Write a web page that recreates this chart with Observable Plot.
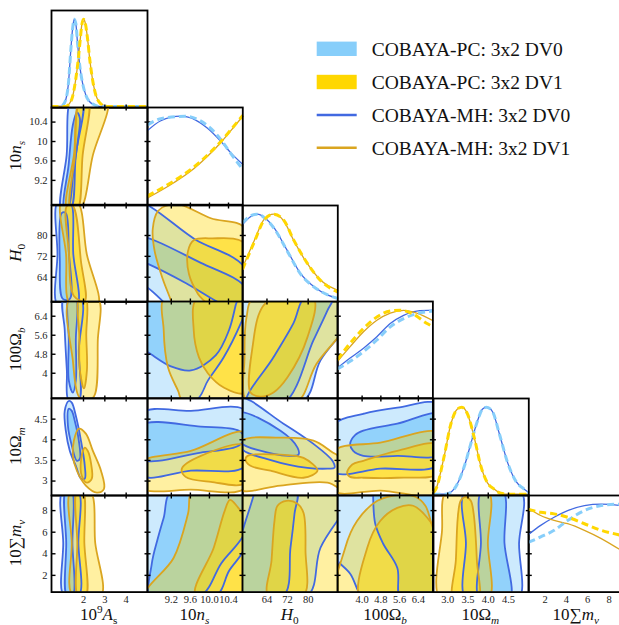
<!DOCTYPE html>
<html><head><meta charset="utf-8">
<script src="https://cdn.jsdelivr.net/npm/d3@7"></script>
<script src="https://cdn.jsdelivr.net/npm/@observablehq/plot@0.6"></script>
<style>
html,body{margin:0;padding:0;background:#fff;}
#fig{position:relative;width:619px;height:625px;overflow:hidden;background:#fff;}
#fig svg text{font-family:"Liberation Serif","Times New Roman",serif;}
</style></head><body><div id="fig"></div>
<script>
// ---------- axis domains, ticks, labels ----------
const domAs = [0.5, 5.0], domNs = [8.7, 10.7], domH0 = [54.5, 91.5], domOb = [2.95, 7.02], domOm = [2.65, 5.0], domMnu = [0.45, 9.4];
const tickAs = [2, 3, 4], labAs = ["2", "3", "4"];
const tickNs = [9.2, 9.6, 10, 10.4], labNsX = ["9.2", "9.6", "10.0", "10.4"], labNsY = ["9.2", "9.6", "10", "10.4"];
const tickH0 = [64, 72, 80], labH0 = ["64", "72", "80"];
const tickOb = [4, 4.8, 5.6, 6.4], labObX = ["4.0", "4.8", "5.6", "6.4"], labObY = ["4", "4.8", "5.6", "6.4"];
const tickOm = [3, 3.5, 4, 4.5], labOmX = ["3.0", "3.5", "4.0", "4.5"], labOmY = ["3", "3.5", "4", "4.5"];
const tickMnu = [2, 4, 6, 8], labMnu = ["2", "4", "6", "8"];
const titleAs = [["10"], ["9", "sup"], ["A", "it"], ["s", "sub"]];
const titleNs = [["10"], ["n", "it"], ["s", "subit"]];
const titleH0 = [["H", "it"], ["0", "sub"]];
const titleOb = [["100Ω"], ["b", "subit"]];
const titleOm = [["10Ω"], ["m", "subit"]];
const titleMnu = [["10"], ["∑"], ["m", "it"], ["ν", "subit"]];
const legendLabels = ["COBAYA-PC: 3x2 DV0", "COBAYA-PC: 3x2 DV1", "COBAYA-MH: 3x2 DV0", "COBAYA-MH: 3x2 DV1"];

// ---------- 1D marginals [value, normalised density] ----------
const As_MH0 = [[0.5,0],[0.94,0],[1.015,0.01],[1.171,0.08],[1.296,0.27],[1.406,0.65],[1.484,0.88],[1.562,1.0],[1.641,0.95],[1.719,0.73],[1.829,0.46],[1.954,0.27],[2.110,0.13],[2.267,0.06],[2.501,0.02],[2.736,0],[5.0,0]];
const As_MH1 = [[0.5,0],[1.171,0],[1.328,0.03],[1.484,0.11],[1.641,0.32],[1.75,0.53],[1.844,0.76],[1.923,0.94],[2.0,1.0],[2.079,0.96],[2.188,0.78],[2.298,0.53],[2.423,0.31],[2.58,0.13],[2.736,0.05],[2.971,0.01],[3.2,0],[5.0,0]];
const As_PC0 = As_MH0, As_PC1 = As_MH1;
const ns_MH0 = [[8.7,0.835],[8.98,0.948],[9.40,1.0],[9.71,0.956],[9.96,0.862],[10.24,0.711],[10.45,0.579],[10.7,0.447]];
const ns_PC0 = [[8.7,0.90],[9.0,0.975],[9.5,1.0],[9.8,0.95],[10.2,0.76],[10.45,0.57],[10.7,0.39]];
const ns_MH1 = [[8.7,0.062],[9.26,0.24],[9.61,0.371],[9.96,0.541],[10.24,0.699],[10.45,0.835],[10.7,1.0]];
const ns_PC1 = [[8.7,0.085],[9.26,0.26],[9.61,0.39],[9.96,0.555],[10.24,0.71],[10.45,0.845],[10.7,1.01]];
const H0_MH0 = [[54.5,0.88],[57.3,0.965],[60.2,1.0],[63.5,0.95],[66.65,0.847],[71.85,0.581],[77.0,0.316],[82.18,0.163],[87.38,0.068],[91.5,0.03]];
const H0_PC0 = [[54.5,0.9],[57.3,0.975],[60.2,1.0],[63.5,0.945],[66.65,0.84],[71.85,0.575],[77.0,0.31],[82.18,0.16],[87.38,0.07],[91.5,0.025]];
const H0_MH1 = [[54.5,0.38],[59.09,0.695],[62.97,0.943],[66.65,1.0],[70.53,0.923],[74.4,0.695],[79.62,0.43],[84.78,0.239],[91.5,0.12]];
const H0_PC1 = [[54.5,0.36],[59.09,0.68],[62.97,0.935],[66.65,1.0],[70.53,0.93],[74.4,0.70],[79.62,0.435],[84.78,0.235],[91.5,0.10]];
const Ob_MH0 = [[2.95,0.334],[3.49,0.448],[4.06,0.562],[4.63,0.694],[5.20,0.846],[5.77,0.941],[6.33,0.99],[7.02,1.0]];
const Ob_PC0 = [[2.95,0.323],[3.49,0.41],[4.06,0.523],[4.63,0.656],[5.20,0.808],[5.77,0.903],[6.33,0.96],[7.02,0.99]];
const Ob_MH1 = [[2.95,0.41],[3.49,0.58],[4.06,0.751],[4.63,0.884],[5.20,0.967],[5.77,0.998],[6.33,0.967],[7.02,0.88]];
const Ob_PC1 = [[2.95,0.429],[3.49,0.619],[4.06,0.789],[4.63,0.921],[5.20,0.99],[5.63,1.0],[6.20,0.952],[6.77,0.846],[7.02,0.81]];
const Om_MH0 = [[2.65,0],[2.95,0],[3.16,0.06],[3.41,0.32],[3.57,0.58],[3.74,0.85],[3.86,0.98],[3.96,1.0],[4.11,0.945],[4.27,0.70],[4.48,0.36],[4.68,0.15],[4.88,0.06],[5.0,0.02]];
const Om_MH1 = [[2.65,0.02],[2.71,0.06],[2.91,0.43],[3.08,0.81],[3.24,0.98],[3.35,1.0],[3.49,0.92],[3.65,0.66],[3.82,0.32],[3.98,0.13],[4.14,0.06],[4.31,0.01],[4.5,0],[5.0,0]];
const Om_PC0 = Om_MH0, Om_PC1 = Om_MH1;
const mnu_MH0 = [[0.45,0.65],[1.59,0.755],[2.85,0.849],[4.12,0.926],[5.69,0.983],[7.27,1.0],[9.08,0.983],[9.4,0.975]];
const mnu_PC0 = [[0.45,0.56],[1.59,0.622],[2.85,0.698],[4.12,0.812],[5.69,0.926],[7.27,0.983],[9.08,1.0],[9.4,1.0]];
const mnu_MH1 = [[0.45,0.95],[1.59,0.869],[2.85,0.812],[4.12,0.774],[5.69,0.698],[7.27,0.603],[9.08,0.47],[9.4,0.445]];
const mnu_PC1 = [[0.45,0.94],[1.59,0.906],[2.85,0.888],[4.12,0.849],[5.69,0.774],[7.27,0.698],[9.08,0.641],[9.4,0.63]];

// ---------- 2D contours [x value, y value]; _0 = DV0, _1 = DV1; _1s = 68%, _2s = 95% ----------
const nsAs_0_2s = [[0.96,8.59],[1.21,9.72],[1.43,10.85],[1.95,10.85],[1.64,9.72],[1.38,8.59]];
const nsAs_0_1s = [[1.08,8.62],[1.30,9.51],[1.50,10.34],[1.69,10.60],[1.83,10.48],[1.74,10.03],[1.54,9.41],[1.27,8.62]];
const nsAs_1_2s = [[1.24,8.59],[1.55,9.72],[1.91,10.85],[3.11,10.85],[2.44,9.72],[1.82,8.59]];
const nsAs_1_1s = [[1.39,8.59],[1.60,9.72],[1.82,10.85],[2.23,10.85],[1.96,9.72],[1.71,8.59]];
const H0As_0_2s = [[0.80,93.2],[0.78,73],[0.80,53],[1.69,53],[1.52,73],[1.36,93.2]];
const H0As_0_1s = [[0.98,88.6],[0.89,70.2],[1.03,55.7],[1.36,55.7],[1.31,74.1],[1.17,88.6]];
const H0As_1_2s = [[0.98,93.2],[1.18,73],[1.41,53],[2.67,53],[2.15,73],[1.69,93.2]];
const H0As_1_1s = [[1.22,91.3],[1.31,74.1],[1.55,56.8],[2.06,54.9],[1.88,70.2],[1.50,91.3]];
const ObAs_0_2s = [[1.08,7.16],[1.12,5.81],[1.22,4.12],[1.31,2.85],[1.78,2.85],[1.78,4.96],[1.88,7.16]];
const ObAs_0_1s = [[1.31,7.16],[1.31,5.4],[1.31,3.70],[1.50,3.19],[1.64,3.70],[1.64,5.4],[1.64,7.16]];
const ObAs_1_2s = [[1.36,7.16],[1.50,4.54],[1.78,3.02],[2.11,2.85],[2.49,3.02],[2.67,5.39],[2.67,7.16]];
const ObAs_1_1s = [[1.78,7.16],[1.80,5.6],[1.83,4.12],[2.02,3.36],[2.16,4.12],[2.13,5.6],[2.11,7.16]];
const OmAs_0_2s = [[1.31,4.94],[1.12,4.70],[1.17,4.22],[1.36,3.73],[1.64,3.37],[1.88,3.06],[2.06,3.06],[2.06,3.37],[1.88,3.98],[1.64,4.58],[1.45,4.90]];
const OmAs_0_1s = [[1.31,4.75],[1.27,4.34],[1.45,3.86],[1.69,3.49],[1.83,3.54],[1.78,3.98],[1.59,4.46],[1.45,4.70]];
const OmAs_1_2s = [[1.78,4.27],[1.55,3.98],[1.50,3.61],[1.69,3.25],[2.11,2.89],[2.63,2.72],[2.96,2.81],[2.82,3.25],[2.44,3.73],[2.11,4.15]];
const OmAs_1_1s = [[2.06,3.81],[1.88,3.49],[1.92,3.13],[2.16,2.96],[2.39,3.06],[2.35,3.44],[2.20,3.73]];
const mnuAs_0_2s = [[1.03,9.84],[1.05,5],[1.08,0.11],[1.78,0.11],[1.76,5],[1.74,9.84]];
const mnuAs_0_1s = [[1.17,9.84],[1.19,5],[1.22,0.11],[1.50,0.11],[1.48,5],[1.45,9.84]];
const mnuAs_1_2s = [[1.41,9.84],[1.45,5],[1.50,0.11],[2.82,0.11],[2.55,5],[2.30,9.84]];
const mnuAs_1_1s = [[1.69,9.84],[1.71,5],[1.74,0.11],[2.11,0.11],[2.04,5],[1.97,9.84]];
const H0ns_0_2s = [[8.45,92.5],[9.70,78.5],[10.76,67.2],[10.76,47],[9.6,47],[8.71,59.9],[8.45,62.5]];
const H0ns_0_1s = [[8.45,79.4],[9.82,69.5],[10.76,59.9],[10.76,51],[10.34,53],[9.51,61.7],[8.71,69.1],[8.45,71]];
const H0ns_1_2s = [[9.23,53],[9.02,63.3],[8.85,74],[8.81,82.5],[8.92,89.4],[9.15,91.7],[9.4,91.7],[10.03,86.6],[10.76,82.5],[10.76,47],[9.29,47]];
const H0ns_1_1s = [[9.97,53],[9.76,57.6],[9.57,65.2],[9.55,74],[9.67,78.2],[10.03,78.9],[10.76,76.7],[10.76,47],[10.03,47]];
const Obns_0_2s = [[8.56,7.49],[10.76,7.49],[10.76,6.65],[10.66,6.11],[10.3,4.67],[9.97,3.70],[9.71,2.85],[8.56,2.85]];
const Obns_0_1s = [[8.56,7.49],[10.62,7.49],[10.55,6.86],[10.41,5.81],[10.13,4.75],[9.61,4.12],[9.19,4.29],[8.71,4.88],[8.56,5.04]];
const Obns_1_2s = [[9.08,7.29],[9.04,5.81],[9.13,4.25],[9.34,3.27],[9.44,2.85],[10.76,2.85],[10.76,7.29]];
const Obns_1_1s = [[9.74,7.16],[9.67,5.81],[9.78,4.67],[9.97,3.99],[10.3,3.40],[10.76,3.19],[10.76,7.16]];
const Omns_0_2s = [[8.56,4.63],[9.61,4.70],[10.76,4.70],[10.76,3.37],[9.61,3.25],[8.56,3.15]];
const Omns_0_1s = [[8.56,4.34],[9.82,4.32],[10.62,4.22],[10.72,4.05],[10.62,3.86],[9.82,3.69],[8.56,3.54]];
const Omns_1_2s = [[8.56,3.44],[9.61,3.73],[10.76,4.17],[10.76,2.84],[9.61,2.79],[8.56,2.84]];
const Omns_1_1s = [[9.42,3.30],[9.82,3.61],[10.76,3.86],[10.76,2.96],[10.03,2.98],[9.5,3.10]];
const mnuns_0_2s = [[8.56,9.84],[10.76,9.84],[10.76,4.74],[10.41,2.41],[10.13,0.11],[8.56,0.11]];
const mnuns_0_1s = [[8.77,-0.35],[8.79,3.08],[8.92,5.48],[9.04,7.34],[9.21,9.84],[10.76,9.84],[10.76,6.13],[10.25,3.13],[9.82,0.11]];
const mnuns_1_2s = [[8.66,0.11],[9.25,3.63],[9.55,7.71],[9.65,9.84],[10.76,9.84],[10.76,0.11]];
const mnuns_1_1s = [[9.71,0.11],[10.09,4.56],[10.32,7.98],[10.43,9.0],[10.57,8.45],[10.76,7.06],[10.76,0.11]];
const ObH0_0_2s = [[52.95,7.29],[96,7.29],[96,6.23],[84.78,4.54],[78.18,2.85],[52.95,2.85]];
const ObH0_0_1s = [[56.05,2.77],[66.53,4.67],[74.3,6.11],[78.96,7.25],[89.83,7.25],[87.5,6.65],[82.06,5.39],[70.8,2.77]];
const ObH0_1_2s = [[56.44,2.77],[55.28,4.67],[56.05,6.35],[58.77,7.16],[96,7.16],[96,6.23],[83.2,4.39],[75.46,2.77]];
const ObH0_1_1s = [[57.6,3.19],[58.77,5.39],[60.71,6.44],[63.04,6.90],[67.31,7.16],[82.06,7.16],[79.73,5.52],[71.97,3.83],[66.53,3.19],[61.49,3.02]];
const OmH0_0_2s = [[52.95,5.02],[70.42,4.39],[82.06,3.90],[89.44,3.49],[90.21,3.32],[87.5,3.30],[79.73,3.32],[66.53,3.49],[52.95,3.86]];
const OmH0_0_1s = [[52.95,4.65],[69.25,4.22],[75.85,3.81],[76.24,3.64],[73.13,3.61],[66.53,3.66],[52.95,3.98]];
const OmH0_1_2s = [[52.95,3.93],[69.25,4.05],[82.06,3.98],[88.66,3.73],[96,3.37],[96,2.72],[87.5,2.96],[69.25,2.89],[52.95,2.81]];
const OmH0_1_1s = [[56.44,3.61],[69.25,3.64],[78.18,3.56],[83.61,3.25],[78.18,3.08],[65.37,3.25],[57.6,3.37],[55.66,3.52]];
const mnuH0_0_2s = [[52.95,9.84],[96,9.84],[96,8.91],[84.78,4.56],[79.73,0.11],[52.95,0.11]];
const mnuH0_0_1s = [[52.95,4.74],[54.89,6.41],[58.77,9.37],[59.16,9.84],[75.46,9.84],[74.69,7.71],[73.13,4.56],[70.42,0.11],[52.95,0.11]];
const mnuH0_1_2s = [[52.95,9.84],[96,9.84],[96,0.11],[52.95,0.11]];
const mnuH0_1_1s = [[64.59,0.11],[65.76,3.35],[66.92,7.06],[68.09,8.45],[71.58,8.91],[75.85,8.63],[78.18,7.80],[78.96,4.28],[78.18,0.11]];
const OmOb_0_2s = [[2.76,4.34],[4.05,4.63],[5.50,4.78],[7.34,4.85],[7.34,3.42],[4.78,3.30],[2.76,3.23]];
const OmOb_0_1s = [[3.49,3.90],[3.71,4.12],[4.05,4.22],[5.50,4.39],[7.34,4.61],[7.34,3.66],[5.50,3.61],[4.05,3.61],[3.62,3.73]];
const OmOb_1_2s = [[2.76,3.71],[4.78,3.93],[7.34,4.15],[7.34,2.72],[4.78,2.77],[2.76,2.77]];
const OmOb_1_1s = [[3.36,3.20],[3.58,3.40],[4.05,3.49],[5.50,3.73],[7.34,3.88],[7.34,3.20],[5.50,3.08],[4.05,3.08],[3.49,3.10]];
const mnuOb_0_2s = [[2.76,9.84],[7.34,9.84],[7.34,-0.35],[4.18,-0.35],[3.49,2.15],[2.76,4.0]];
const mnuOb_0_1s = [[4.47,9.84],[4.47,9.37],[4.56,6.78],[4.90,4.93],[5.50,2.71],[5.67,-0.35],[7.34,-0.35],[7.34,9.84]];
const mnuOb_1_2s = [[2.98,-0.35],[3.28,4.56],[3.79,7.06],[4.65,8.91],[5.63,9.47],[6.27,9.28],[6.70,8.45],[6.99,6.59],[7.54,3.35],[7.54,-0.35]];
const mnuOb_1_1s = [[3.96,-0.35],[4.22,4.56],[4.78,7.06],[5.50,8.26],[6.18,8.45],[6.78,7.34],[7.34,5.21],[7.34,-0.35]];
const mnuOm_0_2s = [[3.44,9.84],[3.45,5],[3.47,-0.35],[4.73,-0.35],[4.76,5],[4.80,9.84]];
const mnuOm_0_1s = [[3.84,9.84],[3.82,5],[3.80,-0.35],[4.52,-0.35],[4.40,5],[4.36,9.84]];
const mnuOm_1_2s = [[2.98,9.84],[2.86,6.13],[2.83,-0.35],[3.99,-0.35],[3.99,5],[3.99,9.84]];
const mnuOm_1_1s = [[3.15,-0.35],[3.20,3.35],[3.32,8.91],[3.45,9.28],[3.57,8.91],[3.64,7.71],[3.72,3.35],[3.74,-0.35]];

// ---------- assembly ----------
const VARS = [
  {dom: domAs, ticks: tickAs, labX: labAs, labY: labAs, title: titleAs},
  {dom: domNs, ticks: tickNs, labX: labNsX, labY: labNsY, title: titleNs},
  {dom: domH0, ticks: tickH0, labX: labH0, labY: labH0, title: titleH0},
  {dom: domOb, ticks: tickOb, labX: labObX, labY: labObY, title: titleOb},
  {dom: domOm, ticks: tickOm, labX: labOmX, labY: labOmY, title: titleOm},
  {dom: domMnu, ticks: tickMnu, labX: labMnu, labY: labMnu, title: titleMnu}
];
const MARG = [
  [As_PC0, As_PC1, As_MH0, As_MH1], [ns_PC0, ns_PC1, ns_MH0, ns_MH1], [H0_PC0, H0_PC1, H0_MH0, H0_MH1],
  [Ob_PC0, Ob_PC1, Ob_MH0, Ob_MH1], [Om_PC0, Om_PC1, Om_MH0, Om_MH1], [mnu_PC0, mnu_PC1, mnu_MH0, mnu_MH1]
];
const CONT = {
  "1,0": [nsAs_0_2s, nsAs_0_1s, nsAs_1_2s, nsAs_1_1s],
  "2,0": [H0As_0_2s, H0As_0_1s, H0As_1_2s, H0As_1_1s],
  "3,0": [ObAs_0_2s, ObAs_0_1s, ObAs_1_2s, ObAs_1_1s],
  "4,0": [OmAs_0_2s, OmAs_0_1s, OmAs_1_2s, OmAs_1_1s],
  "5,0": [mnuAs_0_2s, mnuAs_0_1s, mnuAs_1_2s, mnuAs_1_1s],
  "2,1": [H0ns_0_2s, H0ns_0_1s, H0ns_1_2s, H0ns_1_1s],
  "3,1": [Obns_0_2s, Obns_0_1s, Obns_1_2s, Obns_1_1s],
  "4,1": [Omns_0_2s, Omns_0_1s, Omns_1_2s, Omns_1_1s],
  "5,1": [mnuns_0_2s, mnuns_0_1s, mnuns_1_2s, mnuns_1_1s],
  "3,2": [ObH0_0_2s, ObH0_0_1s, ObH0_1_2s, ObH0_1_1s],
  "4,2": [OmH0_0_2s, OmH0_0_1s, OmH0_1_2s, OmH0_1_1s],
  "5,2": [mnuH0_0_2s, mnuH0_0_1s, mnuH0_1_2s, mnuH0_1_1s],
  "4,3": [OmOb_0_2s, OmOb_0_1s, OmOb_1_2s, OmOb_1_1s],
  "5,3": [mnuOb_0_2s, mnuOb_0_1s, mnuOb_1_2s, mnuOb_1_1s],
  "5,4": [mnuOm_0_2s, mnuOm_0_1s, mnuOm_1_2s, mnuOm_1_1s]
};

// ---------- layout & style ----------
const X = [50.7, 146.7, 242, 337.3, 432.7, 528, 623.5];
const Y = [10, 107.3, 204.5, 301, 397.7, 494.7, 591.3];
const PC0 = "#87cefa", PC1 = "#ffd700", MH0 = "#4169e1", MH1 = "#daa520";
const FONT = "'Liberation Serif', 'Times New Roman', serif";
const fig = document.getElementById("fig");

const hTick = {draw(c) { c.moveTo(-3, 0); c.lineTo(3, 0); }};
const hTickIn = {draw(c) { c.moveTo(0, 0); c.lineTo(4, 0); }};
const vTick = {draw(c) { c.moveTo(0, -3); c.lineTo(0, 3); }};
const tickStyle = {stroke: "black", strokeWidth: 1.4, fill: "none", r: 3};
const labStyle = {fontSize: 10.5, fontFamily: FONT, fill: "#222"};

function place(svg, c, r) {
  svg.style.position = "absolute";
  svg.style.left = X[c] + "px";
  svg.style.top = Y[r] + "px";
  fig.appendChild(svg);
}
const shape = (data, o) => Plot.line(data, {x: d => d[0], y: d => d[1], curve: "catmull-rom-closed", clip: true, ...o});
const curve1D = (data, o) => Plot.line(data, {x: d => d[0], y: d => d[1], curve: "monotone-x", ...o});

for (let r = 0; r < 6; r++) {
  for (let c = 0; c <= r; c++) {
    const vx = VARS[c], w = X[c + 1] - X[c], h = Y[r + 1] - Y[r];
    let marks, ydom;
    if (r === c) {
      const [p0, p1, m0, m1] = MARG[r];
      ydom = [-0.015, 1.1];
      const dash = {strokeWidth: 3, strokeDasharray: "7,4", strokeLinecap: "butt"};
      marks = [
        curve1D(m0, {stroke: MH0, strokeWidth: 1.3}),
        curve1D(m1, {stroke: MH1, strokeWidth: 1.3}),
        curve1D(p0, {stroke: PC0, ...dash}),
        curve1D(p1, {stroke: PC1, ...dash}),
        Plot.frame({stroke: "black", strokeWidth: 1.8})
      ];
      if (r === 5) marks.push(Plot.text(vx.ticks, {x: d => d, y: () => ydom[0], text: (d, i) => vx.labX[i], dy: 8, ...labStyle}));
    } else {
      const vy = VARS[r];
      ydom = vy.dom;
      const [b2, b1, y2, y1] = CONT[r + "," + c];
      marks = [
        shape(b2, {fill: PC0, fillOpacity: 0.42, stroke: "none"}),
        shape(b1, {fill: PC0, fillOpacity: 0.85, stroke: "none"}),
        shape(y2, {fill: PC1, fillOpacity: 0.37, stroke: "none"}),
        shape(y1, {fill: PC1, fillOpacity: 0.55, stroke: "none"}),
        shape(b2, {stroke: MH0, strokeWidth: 1.8}),
        shape(b1, {stroke: MH0, strokeWidth: 1.8}),
        shape(y2, {stroke: MH1, strokeWidth: 1.8}),
        shape(y1, {stroke: MH1, strokeWidth: 1.8}),
        Plot.frame({stroke: "black", strokeWidth: 1.8}),
        Plot.dot(vy.ticks, {x: () => vx.dom[0], y: d => d, symbol: c === 0 ? hTickIn : hTick, ...tickStyle}),
        Plot.dot(vx.ticks, {x: d => d, y: () => vy.dom[1], symbol: vTick, ...tickStyle})
      ];
      if (c === r - 1) marks.push(Plot.dot(vy.ticks, {x: () => vx.dom[1], y: d => d, symbol: hTick, ...tickStyle}));
      if (c === 0) marks.push(Plot.text(vy.ticks, {x: () => vx.dom[0], y: d => d, text: (d, i) => vy.labY[i], textAnchor: "end", dx: -4, ...labStyle}));
      if (r === 5) marks.push(Plot.text(vx.ticks, {x: d => d, y: () => vy.dom[0], text: (d, i) => vx.labX[i], dy: 8, ...labStyle}));
    }
    const svg = Plot.plot({
      width: w, height: h, margin: 0,
      x: {domain: vx.dom, axis: null},
      y: {domain: ydom, axis: null},
      style: {background: "none", overflow: "visible", fontFamily: FONT},
      marks
    });
    place(svg, c, r);
  }
}

// ---------- titles & legend overlay ----------
const ov = d3.select(fig).append("svg").attr("width", 619).attr("height", 625)
  .style("position", "absolute").style("left", "0px").style("top", "0px").style("overflow", "visible")
  .attr("font-family", FONT);
function richText(t, segs, size) {
  t.attr("text-anchor", "middle").attr("font-size", size).attr("fill", "#111");
  let shift = 0;
  for (const [s, k] of segs) {
    const ts = t.append("tspan").text(s);
    let target = 0, fs = size;
    if (k === "sup") { target = -0.4 * size; fs = 0.66 * size; }
    if (k === "sub" || k === "subit") { target = 0.25 * size; fs = 0.66 * size; }
    if (k === "it" || k === "subit") ts.attr("font-style", "italic");
    ts.attr("dy", target - shift).attr("font-size", fs);
    shift = target;
  }
}
VARS.forEach((v, i) => {
  const cx = (X[i] + X[i + 1]) / 2;
  richText(ov.append("text").attr("x", cx).attr("y", 620), v.title, 17);
  if (i > 0) {
    const cy = (Y[i] + Y[i + 1]) / 2;
    richText(ov.append("text").attr("transform", `translate(20.5,${cy}) rotate(-90)`), v.title, 17);
  }
});
const legY = [48.8, 82, 115, 147.7];
const legColor = [PC0, PC1, MH0, MH1];
legendLabels.forEach((lab, i) => {
  if (i < 2) ov.append("rect").attr("x", 316.7).attr("y", legY[i] - 7.2).attr("width", 40).attr("height", 14.4).attr("fill", legColor[i]);
  else ov.append("line").attr("x1", 316.7).attr("x2", 356.7).attr("y1", legY[i]).attr("y2", legY[i]).attr("stroke", legColor[i]).attr("stroke-width", 2.6);
  ov.append("text").attr("x", 371.7).attr("y", legY[i] + 7).attr("font-size", 19.5).attr("fill", "#111").text(lab);
});
</script></body></html>
